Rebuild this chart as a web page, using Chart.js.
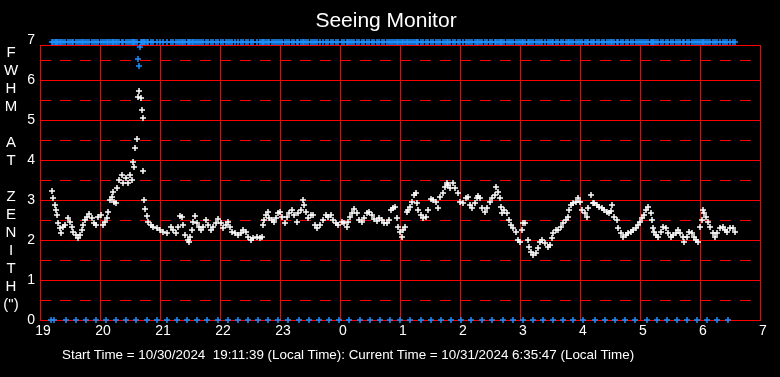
<!DOCTYPE html>
<html>
<head>
<meta charset="utf-8">
<script src="https://cdn.jsdelivr.net/npm/chart.js@4/dist/chart.umd.min.js"></script>
<style>
  body { margin: 0; background: #000; }
  #wrap { position: relative; width: 780px; height: 377px; background: #000; overflow: hidden; }
  #c { position: absolute; left: 0; top: 0; }
  .txt { position: absolute; color: #fff; font-family: "Liberation Sans", Arial, sans-serif; white-space: pre; }
  #title { left: 0; width: 772px; top: 8px; text-align: center; font-size: 21px; line-height: 24px; }
  #ylab { left: 3px; width: 16px; top: 43px; text-align: center; font-size: 15px; line-height: 18px; }
  #foot { left: 62px; top: 346px; font-size: 13.4px; line-height: 18px; }
</style>
</head>
<body>
<div id="wrap">
  <canvas id="c" width="780" height="377"></canvas>
  <div class="txt" id="title">Seeing Monitor</div>
  <div class="txt" id="ylab">F<br>W<br>H<br>M<br> <br>A<br>T<br> <br>Z<br>E<br>N<br>I<br>T<br>H<br>(")</div>
  <div class="txt" id="foot">Start Time = 10/30/2024  19:11:39 (Local Time): Current Time = 10/31/2024 6:35:47 (Local Time)</div>
</div>
<script>
// minutos depois das 19:00 (hora local) e FWHM no zenite (arcsec)
var minutes = [
  12,13,15,16,17,18,20,21,23,25,28,30,32,33,36,38,40,42,43,45,47,49,52,54,56,58,
  61,63,65,67,68,70,72,73,74,76,77,79,82,83,86,88,90,92,93,94,95,97,98,99,101,102,103,103,104,105,107,108,111,113,117,
  120,123,127,131,133,136,138,140,142,143,145,148,149,150,152,153,155,157,159,161,163,166,168,171,173,176,178,
  181,183,186,188,190,192,195,198,201,203,206,208,211,213,217,220,222,223,224,226,228,229,232,234,236,238,
  240,242,245,247,249,252,254,257,258,261,263,264,266,268,271,273,275,277,280,283,286,288,291,293,296,298,
  302,304,307,308,310,312,314,317,319,322,324,327,329,332,334,337,339,342,344,347,349,351,353,355,357,358,
  360,362,363,365,367,368,370,372,374,376,377,378,381,383,386,388,391,393,396,398,400,403,405,407,408,410,413,415,418,
  420,423,426,428,430,432,435,437,438,440,442,445,447,450,452,455,456,458,460,461,462,464,467,469,471,473,476,478,
  480,482,483,485,488,489,491,493,496,498,500,502,505,508,510,512,513,516,518,521,523,526,528,529,531,533,536,538,
  540,542,545,547,548,551,553,554,557,559,562,564,567,569,571,572,574,577,578,581,583,586,588,591,593,596,598,
  600,602,604,606,608,611,612,613,614,616,618,621,623,626,628,631,633,636,638,640,643,644,647,649,652,654,656,658,
  660,662,663,664,666,668,670,673,675,677,680,683,685,687,690,693,695
];
var fwhm = [
  3.22,3.04,2.87,2.75,2.62,2.42,2.29,2.17,2.33,2.37,2.54,2.46,2.33,2.21,2.12,2.06,2.12,2.25,2.37,2.50,2.58,2.64,2.56,2.42,2.37,2.58,
  2.62,2.37,2.46,2.54,2.71,3.00,3.08,3.21,2.96,2.92,3.29,3.50,3.62,3.42,3.54,3.42,3.62,3.50,3.95,3.83,4.29,4.52,5.57,5.72,5.54,5.25,5.04,3.72,3.00,2.77,2.61,2.44,2.37,2.33,2.29,
  2.25,2.21,2.17,2.33,2.25,2.17,2.33,2.60,2.58,2.37,2.12,2.00,1.96,2.08,2.25,2.46,2.60,2.42,2.33,2.25,2.33,2.50,2.37,2.25,2.32,2.42,2.52,
  2.42,2.29,2.37,2.46,2.33,2.21,2.17,2.12,2.17,2.25,2.21,2.08,2.00,2.04,2.08,2.04,2.08,2.37,2.50,2.62,2.71,2.54,2.50,2.46,2.54,2.67,
  2.71,2.58,2.42,2.58,2.67,2.75,2.62,2.46,2.67,2.75,3.00,2.87,2.71,2.54,2.62,2.62,2.37,2.29,2.37,2.50,2.62,2.58,2.62,2.50,2.42,2.37,
  2.46,2.42,2.33,2.46,2.58,2.67,2.77,2.67,2.50,2.46,2.54,2.67,2.71,2.62,2.52,2.48,2.54,2.50,2.42,2.42,2.50,2.75,2.79,2.83,2.54,2.33,
  2.21,2.08,2.25,2.33,2.71,2.75,2.83,2.96,3.12,3.17,2.92,2.75,2.62,2.54,2.58,2.75,3.02,3.00,2.96,2.79,3.08,3.17,3.33,3.42,3.37,3.29,3.42,3.29,3.17,
  2.96,2.92,3.04,3.08,2.87,2.79,2.92,3.04,3.10,3.04,2.79,2.71,2.79,2.96,3.04,3.12,3.33,3.21,3.04,2.83,2.67,2.75,2.67,2.50,2.37,2.29,2.21,2.00,
  1.96,2.25,2.42,2.42,2.00,1.82,1.71,1.62,1.67,1.79,1.96,2.00,1.92,1.83,1.87,2.04,2.17,2.25,2.25,2.33,2.42,2.50,2.58,2.75,2.87,2.92,2.96,3.04,
  2.96,2.75,2.67,2.58,2.79,3.12,2.92,2.92,2.87,2.83,2.79,2.75,2.71,2.67,2.73,2.87,2.58,2.50,2.29,2.17,2.08,2.12,2.17,2.21,2.25,2.29,2.37,
  2.46,2.54,2.62,2.75,2.83,2.67,2.50,2.29,2.21,2.12,2.08,2.21,2.33,2.29,2.17,2.08,2.12,2.17,2.25,2.17,2.08,1.96,2.08,2.21,2.17,2.08,2.00,1.96,
  2.33,2.50,2.75,2.67,2.58,2.46,2.33,2.17,2.08,2.17,2.29,2.33,2.25,2.21,2.29,2.29,2.21
];

// serie azul: fica no teto, menos nestes minutos
var ceiling = 6.95;
var dipMinutes = [98, 99, 100];
var dipValues = [6.52, 6.34, 6.82];

// marcadores azuis no zero (minutos depois das 19:00)
var floorMinutes = [11,14,26,36,46,56,66,76,86,96,107,117,127,137,147,157,167,178,188,198,208,218,
  228,238,248,259,269,279,289,299,309,320,330,340,350,360,370,381,391,401,411,421,431,442,452,463,
  473,483,493,503,513,523,533,543,555,565,575,585,595,607,617,627,637,647,657,667,677,688];

var hourLabels = ['19','20','21','22','23','0','1','2','3','4','5','6','7'];
var yTicks = [0,1,2,3,4,5,6,6.875,7];      // linhas cheias (6.875 = borda de cima)
var yHalfTicks = [0.5,1.5,2.5,3.5,4.5,5.5,6.5]; // linhas tracejadas

function toHour(m) { return 19 + m / 60; }

var white = [];
for (var i = 0; i < minutes.length; i++) {
  white.push({ x: toHour(minutes[i]), y: fwhm[i] });
}
var blueTop = [];
var seen = {};
for (var i = 0; i < minutes.length; i++) {
  if (seen[minutes[i]]) continue;
  seen[minutes[i]] = true;
  if (dipMinutes.indexOf(minutes[i]) < 0) blueTop.push({ x: toHour(minutes[i]), y: ceiling });
}
for (var j = 0; j < dipMinutes.length; j++) {
  blueTop.push({ x: toHour(dipMinutes[j]), y: dipValues[j] });
}
var blueBottom = floorMinutes.map(function (m) { return { x: toHour(m), y: 0 }; });

var ctx = document.getElementById('c').getContext('2d');
var chart = new Chart(ctx, {
  type: 'scatter',
  data: {
    datasets: [
      { data: white, pointStyle: 'cross', pointRadius: 3, borderColor: '#ffffff', borderWidth: 1.5, clip: false },
      { data: blueTop, pointStyle: 'cross', pointRadius: 3, borderColor: '#1e90ff', borderWidth: 1.5, clip: false },
      { data: blueBottom, pointStyle: 'cross', pointRadius: 3, borderColor: '#1e90ff', borderWidth: 1.5, clip: false }
    ]
  },
  options: {
    responsive: false,
    animation: false,
    events: [],
    layout: { padding: { top: 45, right: 20, bottom: 37, left: 0 } },
    plugins: { legend: { display: false }, tooltip: { enabled: false } },
    scales: {
      x: {
        type: 'linear', min: 19, max: 31, alignToPixels: true,
        afterFit: function (s) { s.height = 20; },
        ticks: {
          stepSize: 1, color: '#ffffff', padding: 3, labelOffset: 3, maxRotation: 0, autoSkip: false,
          font: { family: 'Liberation Sans', size: 14 },
          callback: function (v) { return hourLabels[v - 19]; }
        },
        grid: { color: '#ff0000', lineWidth: 1, drawTicks: false },
        border: { color: '#ff0000', width: 1 }
      },
      y: {
        type: 'linear', min: 0, max: 6.875, alignToPixels: true,
        afterFit: function (s) { s.width = 40; },
        afterBuildTicks: function (s) { s.ticks = yTicks.map(function (v) { return { value: v }; }); },
        ticks: {
          color: '#ffffff', padding: 5, autoSkip: false,
          font: { family: 'Liberation Sans', size: 14 },
          callback: function (v) { return v % 1 === 0 ? String(v) : ''; }
        },
        grid: {
          drawTicks: false, lineWidth: 1,
          color: function (c) { return c.tick && c.tick.value === 7 ? 'rgba(0,0,0,0)' : '#ff0000'; }
        },
        border: { color: '#ff0000', width: 1 }
      },
      yHalf: {
        type: 'linear', position: 'left', min: 0, max: 6.875, alignToPixels: true,
        afterFit: function (s) { s.width = 0; },
        afterBuildTicks: function (s) { s.ticks = yHalfTicks.map(function (v) { return { value: v }; }); },
        ticks: { display: false, autoSkip: false },
        grid: { color: '#ff0000', lineWidth: 1, drawTicks: false },
        border: { display: false, dash: [11, 9] }
      }
    }
  }
});
</script>
</body>
</html>
